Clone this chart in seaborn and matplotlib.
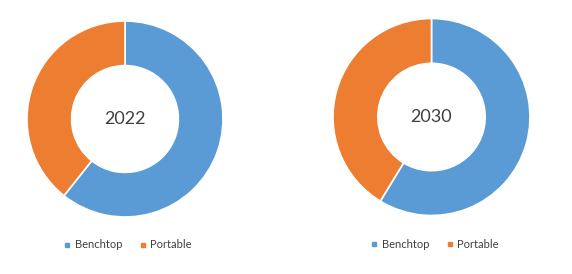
import matplotlib
matplotlib.use("Agg")
import matplotlib.pyplot as plt
import seaborn as sns
from matplotlib.lines import Line2D

categories = ["Benchtop", "Portable"]
years = ["2022", "2030"]
share_2022 = [60.7, 39.3]
share_2030 = [58.7, 41.3]
colors = ["#5B9BD5", "#ED7D31"]

sns.set_theme(style="white")
plt.rcParams['font.family'] = ['Lato', 'DejaVu Sans']

fig = plt.figure(figsize=(5.72, 2.74), dpi=100)
fig.patch.set_facecolor("white")

W, H = 572, 274
specs = [
    (125, 119, 98, share_2022, years[0], 128, 245),
    (431.5, 117, 98.5, share_2030, years[1], 435, 244),
]
for cx, cy, r, vals, label, lx, ly in specs:
    ax = fig.add_axes([(cx - r) / W, (H - cy - r) / H, 2 * r / W, 2 * r / H])
    ax.pie(vals, colors=colors, startangle=90, counterclock=False, radius=1,
           wedgeprops=dict(width=0.455, edgecolor="white", linewidth=1.2))
    ax.set_xlim(-1, 1)
    ax.set_ylim(-1, 1)
    ax.set_aspect("equal")
    ax.axis("off")
    ax.text(0, 0, label, ha="center", va="center", fontsize=13, color="#404040")
    handles = [Line2D([], [], marker="s", linestyle="none", markersize=3.5,
                      markerfacecolor=c, markeredgecolor=c) for c in colors]
    fig.legend(handles, categories, loc="center", bbox_to_anchor=(lx / W, 1 - ly / H),
               ncol=2, frameon=False, fontsize=8, handlelength=0.6,
               handletextpad=0.4, columnspacing=1.5, labelcolor="#404040")

fig.savefig("out.png", dpi=100, facecolor="white")
